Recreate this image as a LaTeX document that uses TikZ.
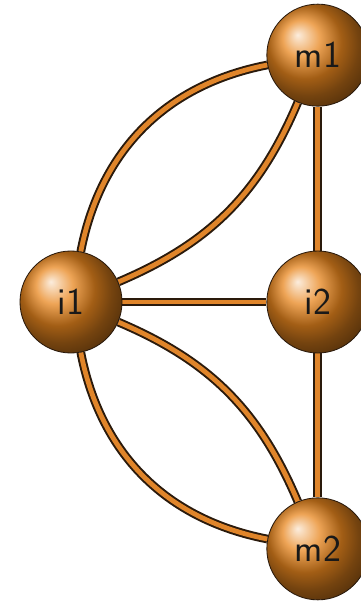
\documentclass[tikz,border=0pt]{standalone}
\usepackage{tikz}
\usetikzlibrary{positioning,backgrounds,shadings}
\definecolor{nodeorange}{HTML}{E8861E}
\definecolor{linkorange}{HTML}{E0852A}
\definecolor{linkdark}{HTML}{2A1A0C}
\tikzset{
  ball/.style={circle,draw=linkdark,line width=0.6pt,shading=ball,
               ball color=nodeorange,minimum size=2.55cm,inner sep=0pt,
               font=\sffamily\fontsize{27}{30}\selectfont,text=black!90},
  link/.style={draw=linkdark,line width=1.4pt,double=linkorange,
               double distance=3.4pt},
}
\begin{document}
\begin{tikzpicture}[node distance=3.6cm]
  \useasboundingbox (-1.775,-7.55) rectangle (7.225,7.55);
  \node[ball] (i1) {i1};
  \node[ball,right=of i1] (i2) {i2};
  \node[ball,above=of i2] (m1) {m1};
  \node[ball,below=of i2] (m2) {m2};
  \begin{scope}[on background layer]
    \draw[link] (i1) -- (i2);
    \draw[link] (m1) -- (i2);
    \draw[link] (i2) -- (m2);
    \draw[link] (i1) to[bend left=34] (m1);
    \draw[link] (i1) to[bend right=22] (m1);
    \draw[link] (i1) to[bend right=34] (m2);
    \draw[link] (i1) to[bend left=22] (m2);
  \end{scope}
\end{tikzpicture}
\end{document}
